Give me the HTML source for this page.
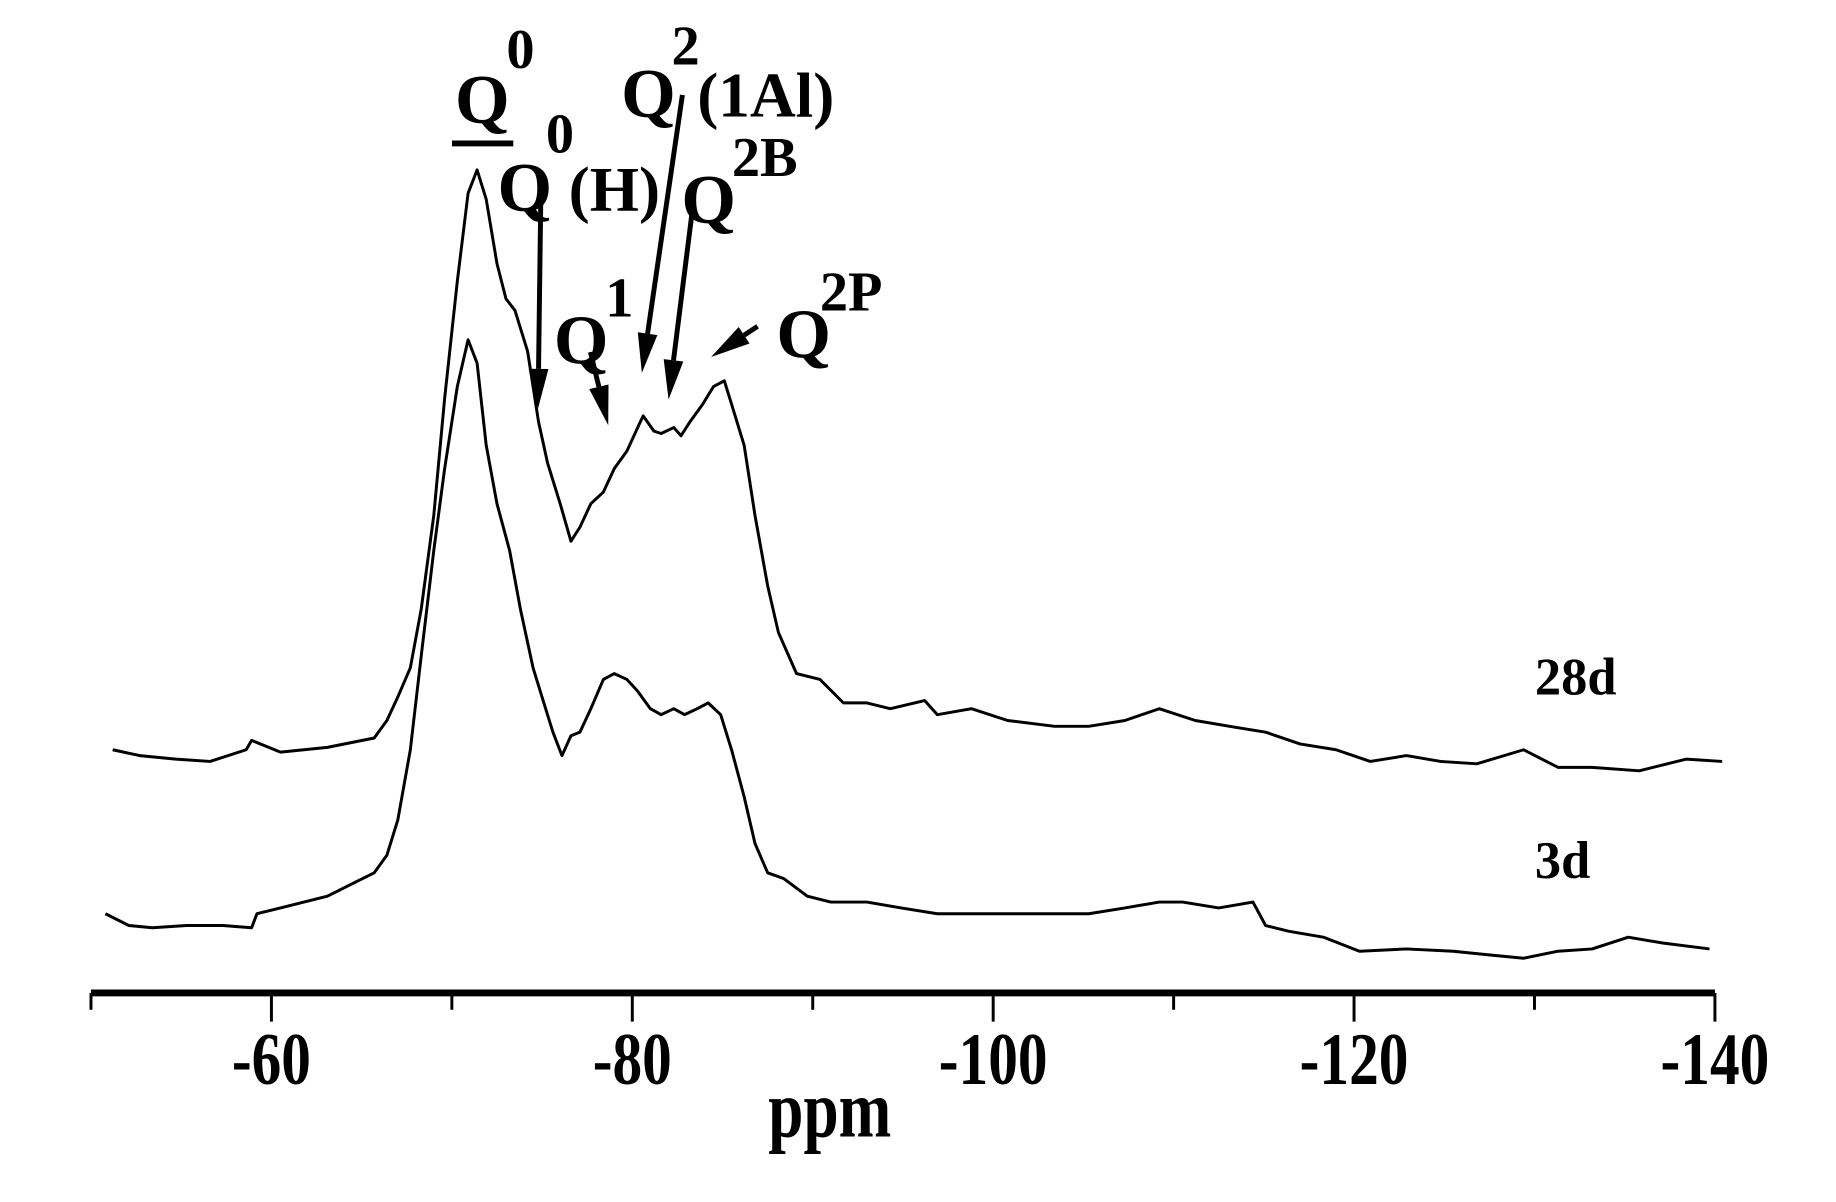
<!DOCTYPE html>
<html><head><meta charset="utf-8">
<style>
html,body{margin:0;padding:0;background:#fff;}
svg{display:block;}
text{font-family:"Liberation Serif",serif;font-weight:bold;fill:#000;}
</style></head>
<body>
<svg id="chart" width="1836" height="1202" viewBox="0 0 1836 1202" xmlns="http://www.w3.org/2000/svg">
<g transform="scale(0.989)">
<g id="axis"></g>
<g id="series"></g>
<g id="ann">
  <line x1="457" y1="145" x2="519" y2="145" stroke="#000" stroke-width="6"/>
  <text x="460" y="124" font-size="71">Q</text>
  <text x="512" y="69" font-size="57">0</text>
  <text x="503" y="213" font-size="71">Q</text>
  <text x="552" y="154" font-size="57">0</text>
  <text x="575" y="213" font-size="64">(H)</text>
  <text x="628" y="118" font-size="71">Q</text>
  <text x="679" y="65" font-size="57">2</text>
  <text x="705" y="118" font-size="64">(1Al)</text>
  <text x="689" y="225" font-size="71">Q</text>
  <text x="740" y="178" font-size="57">2B</text>
  <text x="560" y="367" font-size="71">Q</text>
  <text x="612" y="320" font-size="57">1</text>
  <text x="785" y="361" font-size="71">Q</text>
  <text x="829" y="314" font-size="57">2P</text>
  <text x="1552" y="702" font-size="53">28d</text>
  <text x="1552" y="888" font-size="53">3d</text>
</g>
</g>
</svg>
<script>
const ppm28 = [-51.2,-52.7,-54.7,-56.6,-58.6,-58.9,-60.5,-63.1,-65.7,-66.4,-67.0,-67.7,-68.3,-69.0,-69.6,-70.3,-70.9,-71.4,-71.9,-72.5,-73.0,-73.5,-74.2,-74.8,-75.3,-76.0,-76.6,-77.1,-77.7,-78.4,-79.0,-79.7,-80.3,-80.6,-81.2,-81.6,-82.3,-82.7,-83.2,-83.9,-84.5,-85.1,-85.5,-86.2,-86.8,-87.5,-88.1,-89.1,-90.4,-91.7,-93.0,-94.3,-96.2,-96.9,-98.8,-100.8,-103.4,-105.3,-107.3,-109.2,-111.2,-113.1,-115.1,-117.0,-119.0,-120.9,-122.9,-124.8,-126.8,-129.4,-131.3,-133.2,-135.8,-138.4,-140.4];
const int28 = [20,15,12,10,20,28,18,22,30,45,65,90,140,220,320,420,495,515,490,435,405,395,360,300,265,230,198,210,230,240,260,275,295,305,292,290,295,288,300,315,330,335,315,280,220,160,120,85,80,60,60,55,62,50,55,45,40,40,45,55,45,40,35,25,20,10,15,10,8,20,5,5,2,12,10];
const ppm3 = [-50.8,-52.1,-53.4,-55.3,-57.3,-58.9,-59.2,-60.5,-61.8,-63.1,-64.4,-65.7,-66.4,-67.0,-67.7,-68.3,-69.0,-69.6,-70.3,-70.9,-71.4,-71.9,-72.5,-73.2,-73.8,-74.5,-75.1,-75.6,-76.1,-76.6,-77.1,-77.7,-78.4,-79.0,-79.7,-80.3,-81.0,-81.6,-82.3,-82.9,-83.6,-84.2,-84.9,-85.5,-86.2,-86.8,-87.5,-88.4,-89.7,-91.0,-93.0,-94.9,-96.9,-98.8,-100.8,-103.4,-105.3,-107.3,-109.2,-110.5,-112.5,-114.4,-115.1,-116.4,-118.3,-120.3,-122.9,-125.5,-127.4,-129.4,-131.3,-133.2,-135.2,-137.1,-139.7];
const int3 = [40,30,28,30,30,28,40,45,50,55,65,75,90,120,180,260,350,420,490,530,510,440,390,350,300,250,220,195,175,192,195,215,240,245,240,230,215,210,215,210,215,220,210,180,140,100,75,70,55,50,50,45,40,40,40,40,40,45,50,50,45,50,30,25,20,8,10,8,5,2,8,10,20,15,10];
const majorTicks = [-60,-80,-100,-120,-140];
const minorTicks = [-50,-70,-90,-110,-130];
const tickLabels = ["-60","-80","-100","-120","-140"];

const NS="http://www.w3.org/2000/svg";
const S=1836/1550;
function xs(p){return 92+(-50-p)/90*(1734-92);}
function ys(v,base){return (base-v)*S;}
const axis=document.getElementById('axis');
function mk(tag,attrs,parent){const e=document.createElementNS(NS,tag);for(const k in attrs)e.setAttribute(k,attrs[k]);parent.appendChild(e);return e;}
const al=mk('line',{x1:92,y1:1004,x2:1734,y2:1004,stroke:'#000','stroke-width':7},axis);


majorTicks.forEach((t,i)=>{
  const l=mk('line',{x1:xs(t),y1:1004,x2:xs(t),y2:1033,stroke:'#000','stroke-width':3},axis);
  
  
  const tx=mk('text',{x:0,y:0,'font-size':75,'text-anchor':'middle',transform:`translate(${xs(t)},1096) scale(0.8,1)`},axis);
  tx.textContent=tickLabels[i];
  
  
});
minorTicks.forEach(t=>{
  const l=mk('line',{x1:xs(t),y1:1004,x2:xs(t),y2:1021,stroke:'#000','stroke-width':3},axis);
  
  
});
const xt=mk('text',{x:0,y:0,'font-size':83,'text-anchor':'middle',transform:'translate(839,1149) scale(0.77,1)'},axis);
xt.textContent='ppm';



const ser=document.getElementById('series');
function line(px,iv,base,name){
  const d=px.map((p,i)=>(i?'L':'M')+xs(p).toFixed(1)+','+ys(iv[i],base).toFixed(1)).join(' ');
  const pth=mk('path',{d:d,fill:'none',stroke:'#000','stroke-width':3,'stroke-linejoin':'round'},ser);
  
  
}
line(ppm28,int28,660,'spectrum-28d');
line(ppm3,int3,820,'spectrum-3d');

const ann=document.getElementById('ann');
const arrows=[[547,186,544,413,'arrow-q0h'],[597,356,615,430,'arrow-q1'],[690,96,649,377,'arrow-q2-1al'],[700,213,676,404,'arrow-q2b'],[766,330,719,361,'arrow-q2p']];
arrows.forEach(a=>{
  const [x1,y1,x2,y2,n]=a;
  const dx=x2-x1,dy=y2-y1,L=Math.hypot(dx,dy),ux=dx/L,uy=dy/L;
  const hl=40,hw=10;
  const bx=x2-ux*hl,by=y2-uy*hl;
  const g=mk('g',{},ann);
  
  
  mk('line',{x1:x1,y1:y1,x2:bx,y2:by,stroke:'#000','stroke-width':5},g);
  mk('polygon',{points:`${x2},${y2} ${bx-uy*hw},${by+ux*hw} ${bx+uy*hw},${by-ux*hw}`,fill:'#000'},g);
});
</script>
</body></html>
